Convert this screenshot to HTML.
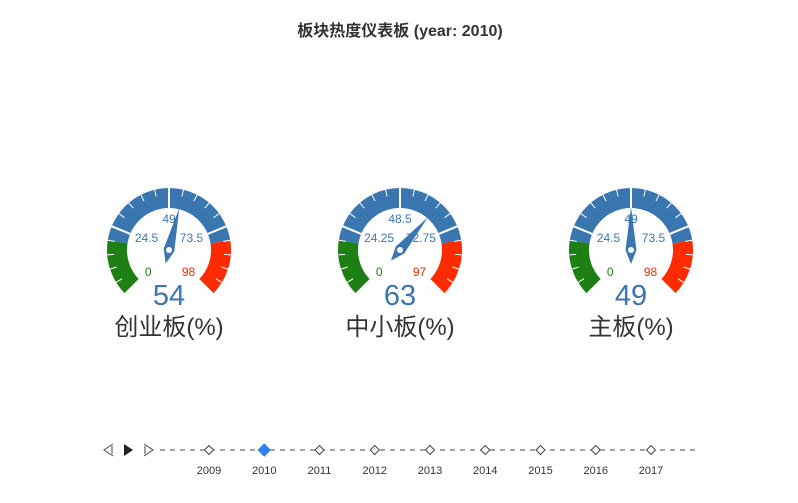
<!DOCTYPE html>
<html><head><meta charset="utf-8">
<style>
body{margin:0;background:#fff;width:798px;height:498px;overflow:hidden;font-family:"Liberation Sans","Noto Sans CJK SC",sans-serif;}
</style></head>
<body>
<svg id="chart" width="798" height="498" xmlns="http://www.w3.org/2000/svg" font-family="Liberation Sans, Noto Sans CJK SC, sans-serif">
<text x="400" y="36" text-anchor="middle" font-size="16" font-weight="bold" fill="#333">板块热度仪表板 (year: 2010)</text>
</svg>
<script>
const names = ["创业板(%)", "中小板(%)", "主板(%)"];
const values = [54, 63, 49];
const maxes = [98, 97, 98];
const years = ["2009","2010","2011","2012","2013","2014","2015","2016","2017"];
const currentYear = "2010";

const NS = "http://www.w3.org/2000/svg";
const svg = document.getElementById("chart");
function mk(tag, attrs, parent) {
  const e = document.createElementNS(NS, tag);
  for (const k in attrs) e.setAttribute(k, attrs[k]);
  (parent || svg).appendChild(e);
  return e;
}
const centers = [169, 400, 631];
const cy = 250, R = 62, W = 20;
const BLUE = "#3a76b0", GREEN = "#1e7f15", RED = "#fe2a00";
function ang(f) { return (225 - f * 270) * Math.PI / 180; }
function pt(cx, r, a) { return [cx + r * Math.cos(a), cy - r * Math.sin(a)]; }
function arc(cx, f0, f1) {
  const a0 = ang(f0), a1 = ang(f1);
  const p0 = pt(cx, R, a0), p1 = pt(cx, R, a1), q1 = pt(cx, R - W, a1), q0 = pt(cx, R - W, a0);
  const large = (f1 - f0) * 270 > 180 ? 1 : 0;
  return `M${p0}A${R},${R} 0 ${large} 1 ${p1}L${q1}A${R - W},${R - W} 0 ${large} 0 ${q0}Z`;
}
names.forEach((name, i) => {
  const cx = centers[i], max = maxes[i];
  const g = mk("g", {});
  
  
  [[0, 0.2, GREEN], [0.2, 0.8, BLUE], [0.8, 1, RED]].forEach(s => {
    const p = mk("path", { d: arc(cx, s[0], s[1]), fill: s[2] }, g);
    
    
  });
  for (let k = 0; k <= 20; k++) {
    const f = k / 20, a = ang(f);
    const major = k % 5 === 0;
    const a1 = pt(cx, R, a), a2 = pt(cx, major ? R - W : R - 7, a);
    const l = mk("line", { x1: a1[0], y1: a1[1], x2: a2[0], y2: a2[1], stroke: "#fff", "stroke-width": major ? 2 : 1 }, g);
    
    
  }
  for (let k = 0; k <= 4; k++) {
    const f = k / 4, a = ang(f);
    const p = pt(cx, 31, a);
    const v = max * f;
    const label = String(Math.round(v * 100) / 100);
    const w = label.length * 6.7;
    const x = p[0] - Math.cos(a) * w * 0.25;
    const col = f < 0.2 ? GREEN : (f > 0.8 ? RED : BLUE);
    const t = mk("text", { x: x, y: p[1] + 4, "text-anchor": "middle", "font-size": 12, fill: col }, g);
    t.textContent = label;
    
    
  }
  const a = ang(values[i] / max);
  const tip = pt(cx, 43, a), tail = pt(cx, -14, a);
  const side = a + Math.PI / 2;
  const hw = 5.5;
  const s1 = [cx + hw * Math.cos(side), cy - hw * Math.sin(side)], s2 = [cx - hw * Math.cos(side), cy + hw * Math.sin(side)];
  const ptr = mk("polygon", { points: [tip, s1, tail, s2].map(p => p.join(",")).join(" "), fill: BLUE }, g);
  
  
  const dot = mk("circle", { cx: cx, cy: cy, r: 3, fill: "#fff" }, g);
  
  
  const dv = mk("text", { x: cx, y: 305, "text-anchor": "middle", "font-size": 29, fill: BLUE }, g);
  dv.textContent = values[i];
  
  
  const tt = mk("text", { x: cx, y: 335, "text-anchor": "middle", "font-size": 24, fill: "#333" }, g);
  tt.textContent = name;
  
  
});

// timeline
const tl = mk("g", {});


const ty = 450;
const axl = mk("line", { x1: 160, y1: ty, x2: 700, y2: ty, stroke: "#444", "stroke-width": 1, "stroke-dasharray": "5,5" }, tl);


const prev = mk("path", { d: `M113,${ty - 6}L104,${ty}L113,${ty + 6}M112,${ty - 4}L112,${ty + 4}`, fill: "none", stroke: "#444" }, tl);


const play = mk("path", { d: `M124,${ty - 6}L133,${ty}L124,${ty + 6}Z`, fill: "#222" }, tl);


const next = mk("path", { d: `M144,${ty - 6}L153,${ty}L144,${ty + 6}M145,${ty - 4}L145,${ty + 4}`, fill: "none", stroke: "#444" }, tl);


years.forEach((y, k) => {
  const x = 209 + k * 55.25;
  const cur = y === currentYear;
  const s = cur ? 6 : 4.5;
  const d = mk("polygon", { points: `${x},${ty - s} ${x + s},${ty} ${x},${ty + s} ${x - s},${ty}`, fill: cur ? "#2f7ff0" : "#fff", stroke: cur ? "#2f7ff0" : "#444" }, tl);
  
  
  const t = mk("text", { x: x, y: 474, "text-anchor": "middle", "font-size": 11, fill: "#333" }, tl);
  t.textContent = y;
  
  
});
</script>
</body></html>
